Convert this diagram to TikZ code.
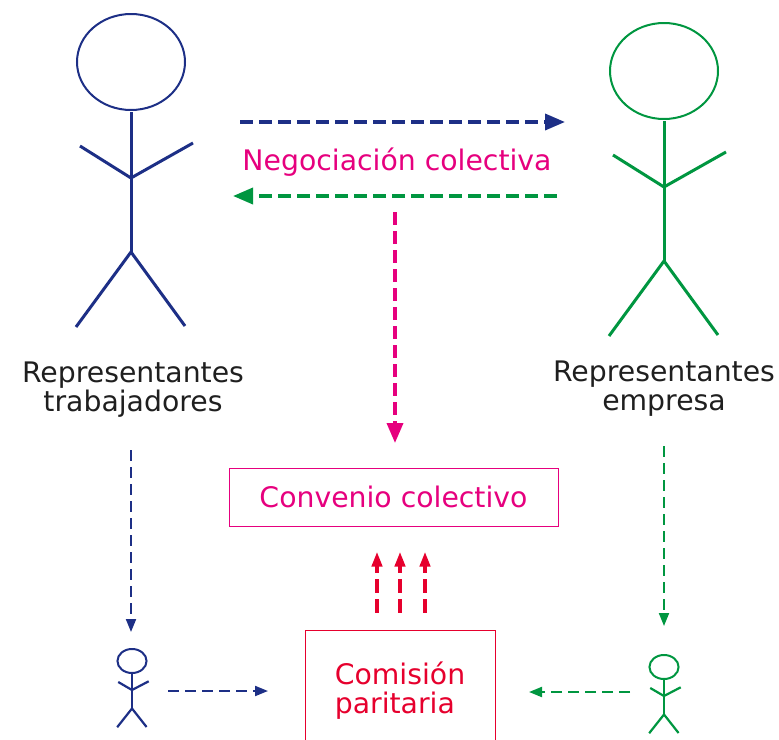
\documentclass[tikz,border=0pt]{standalone}
\usepackage{fontspec}
\setmainfont{DejaVu Sans}
\usetikzlibrary{arrows.meta, positioning}
\definecolor{navy}{HTML}{1D2F86}
\definecolor{leaf}{HTML}{009640}
\definecolor{fuchsia}{HTML}{E6007E}
\definecolor{scarlet}{HTML}{E6002D}
\tikzset{
  man/.pic={
    \draw[line width=\headwidth] (0,0) ellipse [x radius=54, y radius=48];
    \draw (0,50) -- (0,190);
    \draw (-51,84) -- (0,116) -- (62,81);
    \draw (-55,265) -- (0,190) -- (54,264);
  },
  bigman/.style={line width=3pt},
  smallman/.style={line width=2.2pt},
  bigarr/.style={
    line width=3.6pt, dash pattern=on 13pt off 6pt,
    -{Triangle[length=20pt, width=16pt]}
  },
  midarr/.style={
    line width=4pt, dash pattern=on 14pt off 6pt,
    -{Triangle[length=15pt, width=10pt]}
  },
  smallarr/.style={
    line width=2pt, dash pattern=on 11pt off 6pt,
    -{Triangle[length=13pt, width=10pt]}
  },
  label/.style={
    align=center, font=\fontsize{28.3}{29}\selectfont, text=black!88
  },
  box/.style={
    rectangle, draw, line width=1pt, align=left,
    font=\fontsize{28.3}{29}\selectfont
  }
}
\newcommand{\headwidth}{2pt}
\begin{document}
\begin{tikzpicture}[x=1pt, y=-1pt]
  \useasboundingbox (0,0) rectangle (779,739);
  % figures
  \pic[draw=navy, bigman] at (131,62) {man};
  \pic[draw=leaf, bigman] at (664,71) {man};
  \pic[draw=navy, smallman, xscale=.27, yscale=.25] at (132,661) {man};
  \pic[draw=leaf, smallman, xscale=.27, yscale=.25] at (664,667) {man};
  % texts
  \node[label] (repworkers) at (133,390) {Representantes\\trabajadores};
  \node[label] (repcompany) at (664,389) {Representantes\\empresa};
  \node[label, text=fuchsia] (bargain) at (397,162) {Negociación colectiva};
  \node[box, draw=fuchsia, text=fuchsia, minimum width=329pt, minimum height=58pt] (agreement) at (393.5,497) {\raisebox{-2pt}{Convenio colectivo}};
  \node[box, draw=scarlet, text=scarlet, minimum width=190pt, minimum height=122pt] (committee) at (400,691) {Comisión\\paritaria};
  % free ends of the arrows
  \coordinate (topa) at (240,122);
  \coordinate (topb) at (565,122);
  \coordinate (backa) at (557,196);
  \coordinate (backb) at (233,196);
  \coordinate (downa) at (395,212);
  \coordinate (downb) at (395,443);
  \coordinate (workersa) at (131,450);
  \coordinate (workersb) at (131,632);
  \coordinate (companya) at (664,446);
  \coordinate (companyb) at (664,626);
  \coordinate (smallworkersa) at (168,691);
  \coordinate (smallworkersb) at (268,691);
  \coordinate (smallcompanya) at (630,692);
  \coordinate (smallcompanyb) at (529,692);
  % arrows
  \draw[bigarr, navy] (topa) -- (topb);
  \draw[bigarr, leaf] (backa) -- (backb);
  \draw[bigarr, fuchsia] (downa) -- (downb);
  \draw[smallarr, navy] (workersa) -- (workersb);
  \draw[smallarr, leaf] (companya) -- (companyb);
  \draw[smallarr, navy] (smallworkersa) -- (smallworkersb);
  \draw[smallarr, leaf] (smallcompanya) -- (smallcompanyb);
  \foreach \x in {-23, 0, 25} {
    \draw[midarr, scarlet] ([xshift=\x pt, yshift=17pt]committee.north) -- ([xshift=\x pt, yshift=78pt]committee.north);
  }
\end{tikzpicture}
\end{document}
